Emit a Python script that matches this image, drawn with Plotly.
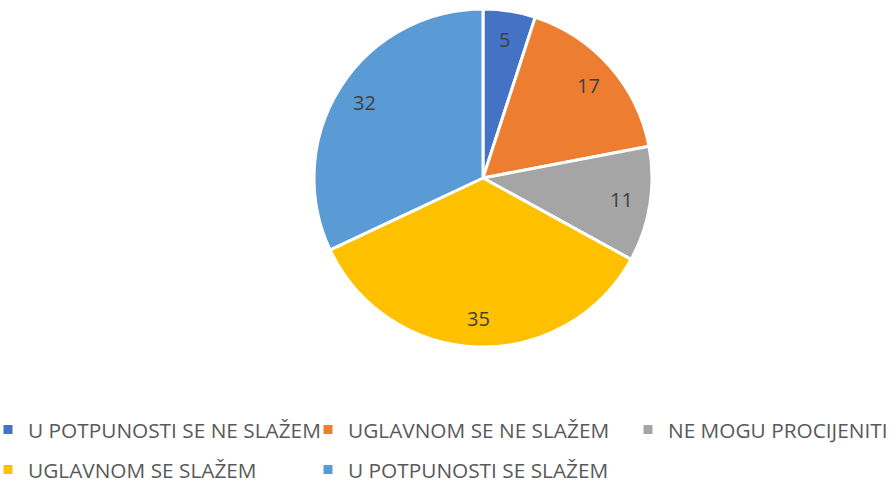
import math
import plotly.graph_objects as go

categories = ["U POTPUNOSTI SE NE SLAŽEM", "UGLAVNOM SE NE SLAŽEM", "NE MOGU PROCIJENITI",
              "UGLAVNOM SE SLAŽEM", "U POTPUNOSTI SE SLAŽEM"]
values = [5, 17, 11, 35, 32]
colors = ["#4472C4", "#ED7D31", "#A5A5A5", "#FFC000", "#5B9BD5"]

W, H = 896, 483
cx, cy, R = 483, 178, 169
dom_x = [(cx - R) / W, (cx + R) / W]
dom_y = [(H - cy - R) / H, (H - cy + R) / H]
FONT = "'Open Sans', sans-serif"

# legend layout (Excel-style: 3 entries in the first row, 2 in the second)
leg_names = ["legend", "legend2", "legend3", "legend4", "legend5"]
leg_text_x = [30, 350, 670, 30, 350]
leg_row_y = [430, 430, 430, 470, 470]

fig = go.Figure()
fig.add_trace(go.Pie(
    labels=categories, values=values, sort=False, direction="clockwise", rotation=0,
    marker=dict(colors=colors, line=dict(color="white", width=3)),
    textinfo="none", domain=dict(x=dom_x, y=dom_y), hoverinfo="label+value",
    showlegend=False,
))

for name, col, lg in zip(categories, colors, leg_names):
    fig.add_trace(go.Scatter(x=[None], y=[None], mode="markers", name=name,
                             marker=dict(symbol="square", size=9, color=col),
                             legend=lg, hoverinfo="skip"))

# data labels placed at 0.83 R along each slice's mid-angle
total = sum(values)
cum = 0
for v in values:
    mid = (cum + v / 2) / total * 2 * math.pi
    cum += v
    px = cx + 0.83 * R * math.sin(mid)
    py = cy - 0.83 * R * math.cos(mid)
    fig.add_annotation(x=px / W, y=1 - py / H, xref="paper", yref="paper", text=str(v),
                       xanchor="center", yanchor="middle", showarrow=False,
                       font=dict(size=20, color="#404040", family=FONT))

legends = {}
for lg, tx, ry in zip(leg_names, leg_text_x, leg_row_y):
    legends[lg] = dict(orientation="v", xanchor="left", yanchor="middle",
                       x=(tx - 42) / W, y=1 - ry / H,
                       font=dict(size=20.8, color="#595959", family=FONT),
                       itemclick=False, itemdoubleclick=False, bgcolor="rgba(0,0,0,0)")

fig.update_layout(
    width=W, height=H, margin=dict(l=0, r=0, t=0, b=0, autoexpand=False),
    paper_bgcolor="white", plot_bgcolor="white",
    font=dict(family=FONT),
    xaxis=dict(visible=False), yaxis=dict(visible=False),
    **legends,
)
fig.write_html("out.html", config={"displayModeBar": False},
               post_script="document.body.style.margin='0';")
